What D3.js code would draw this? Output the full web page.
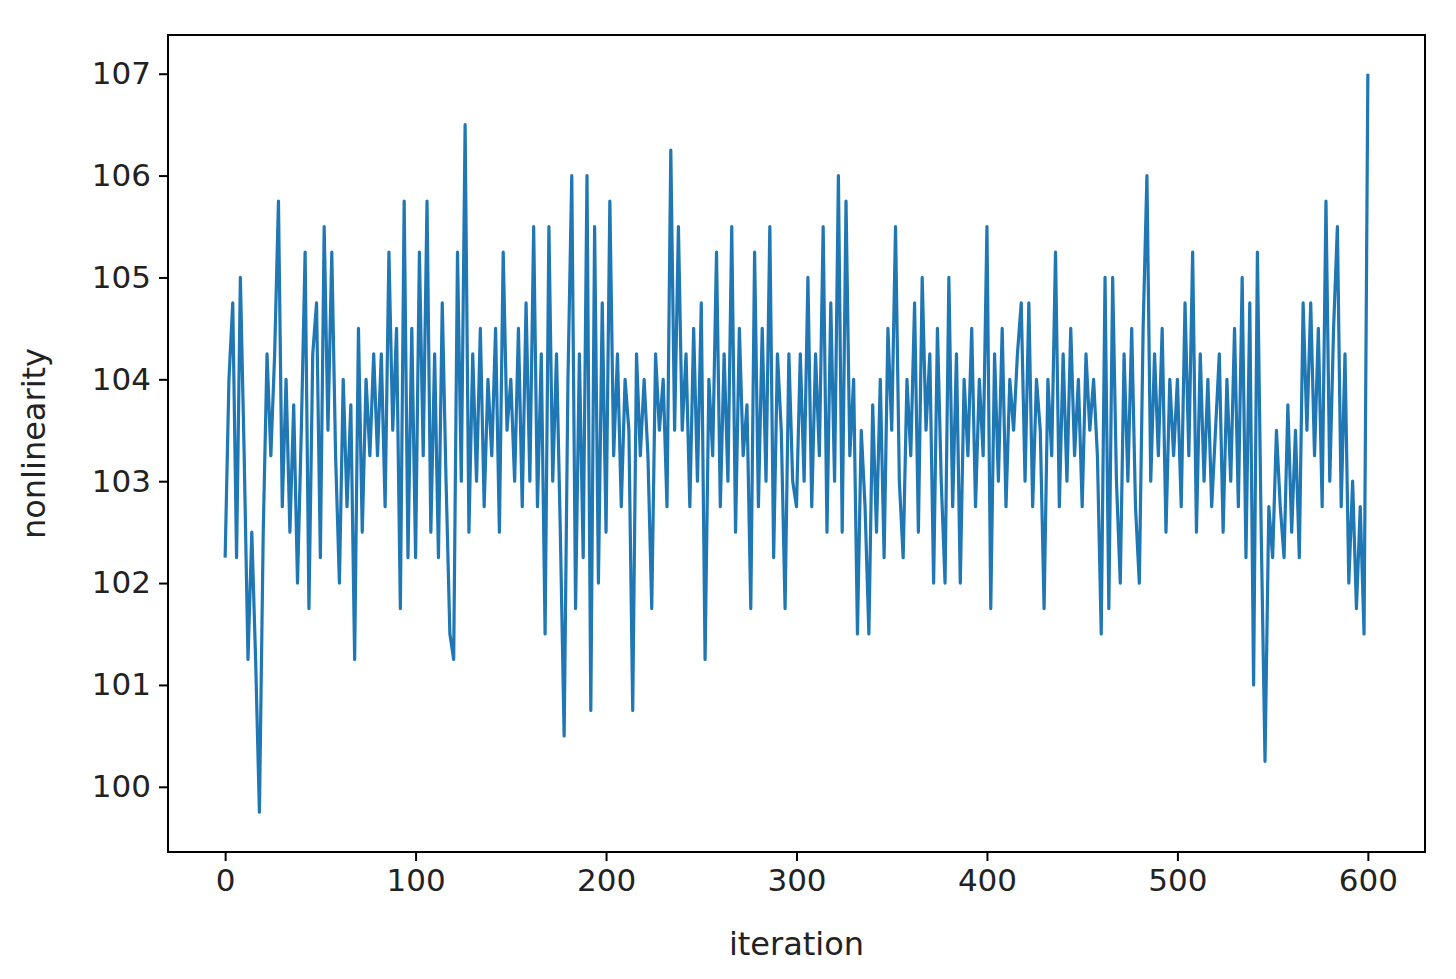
<!DOCTYPE html>
<html><head><meta charset="utf-8">
<script src="https://cdn.jsdelivr.net/npm/d3@7"></script>
<style>body{margin:0;background:#fff}svg{display:block}</style>
</head><body>
<script>
// values sampled every 2 iterations
const step = 2;
const nonlinearity = [
102.25,104,104.75,102.25,105,103.25,101.25,102.5,101.25,99.75,
102.5,104.25,103.25,104.25,105.75,102.75,104,102.5,103.75,102,
103.5,105.25,101.75,104.25,104.75,102.25,105.5,103.5,105.25,103.25,
102,104,102.75,103.75,101.25,104.5,102.5,104,103.25,104.25,
103.25,104.25,102.75,105.25,103.5,104.5,101.75,105.75,102.25,104.5,
102.25,105.25,103.25,105.75,102.5,104.25,102.25,104.75,103,101.5,
101.25,105.25,103,106.5,102.5,104.25,103,104.5,102.75,104,
103.25,104.5,102.5,105.25,103.5,104,103,104.5,102.75,104.75,
103,105.5,102.75,104.25,101.5,105.5,103,104.25,102.5,100.5,
104,106,101.75,104.25,102.25,106,100.75,105.5,102,104.75,
102.5,105.75,103.25,104.25,102.75,104,103.5,100.75,104.25,103.25,
104,103.25,101.75,104.25,103.5,104,102.75,106.25,103.5,105.5,
103.5,104.25,102.75,104.5,103,104.75,101.25,104,103.25,105.25,
102.75,104.25,103,105.5,102.5,104.5,103.25,103.75,101.75,105.25,
102.75,104.5,103,105.5,102.25,104.25,103.5,101.75,104.25,103,
102.75,104.25,103,105,102.75,104.25,103.25,105.5,102.5,104.75,
103,106,102.5,105.75,103.25,104,101.5,103.5,102.75,101.5,
103.75,102.5,104,102.25,104.5,103.5,105.5,103,102.25,104,
103.25,104.75,102.5,105,103.5,104.25,102,104.5,103,102,
105,102.75,104.25,102,104,103.25,104.5,102.75,104,103.25,
105.5,101.75,104.25,103,104.5,102.75,104,103.5,104.25,104.75,
103,104.75,102.75,104,103.5,101.75,104,103.25,105.25,102.75,
104.25,103,104.5,103.25,104,102.75,104.25,103.5,104,103.25,
101.5,105,101.75,105,103,102,104.25,103,104.5,102.75,
102,104.5,106,103,104.25,103.25,104.5,102.5,104,103.25,
104,102.75,104.75,103.25,105.25,102.5,104.25,103,104,102.75,
103.5,104.25,102.5,104,103,104.5,102.75,105,102.25,104.75,
101,105.25,102.5,100.25,102.75,102.25,103.5,102.75,102.25,103.75,
102.5,103.5,102.25,104.75,103.5,104.75,103.25,104.5,102.75,105.75,
103,104.5,105.5,102.75,104.25,102,103,101.75,102.75,101.5,
107
];
const xTicks = [0, 100, 200, 300, 400, 500, 600];
const yTicks = [100, 101, 102, 103, 104, 105, 106, 107];

const W = 1456, H = 979;
const L = 168, R = 1425, T = 35, B = 852;
const svg = d3.select("body").append("svg").attr("width", W).attr("height", H);

const x = d3.scaleLinear().domain([-30, 630]).range([L, R]);
const y = d3.scaleLinear().domain([99.36, 107.38]).range([B, T]);

const line = d3.line().x((d, i) => x(i * step)).y(d => y(d));
svg.append("path").datum(nonlinearity)
  .attr("d", line).attr("fill", "none")
  .attr("stroke", "#1f77b4").attr("stroke-width", 3.2)
  .attr("stroke-linejoin", "round");

const font = "DejaVu Sans, sans-serif";
const gx = svg.append("g").attr("transform", `translate(0,${B})`)
  .call(d3.axisBottom(x).tickValues(xTicks).tickSize(9).tickPadding(8));
const gy = svg.append("g").attr("transform", `translate(${L},0)`)
  .call(d3.axisLeft(y).tickValues(yTicks).tickSize(9).tickPadding(8));
[gx, gy].forEach(g => {
  g.select(".domain").remove();
  g.selectAll("line").attr("stroke", "#000").attr("stroke-width", 2);
  g.selectAll("text").attr("font-family", font).attr("font-size", 31).attr("fill", "#222");
});

svg.append("rect").attr("x", L).attr("y", T).attr("width", R - L).attr("height", B - T)
  .attr("fill", "none").attr("stroke", "#000").attr("stroke-width", 2);

svg.append("text").attr("x", (L + R) / 2).attr("y", 955).attr("text-anchor", "middle")
  .attr("font-family", font).attr("font-size", 32).attr("fill", "#222").text("iteration");
svg.append("text").attr("transform", `translate(45,${(T + B) / 2}) rotate(-90)`)
  .attr("text-anchor", "middle").attr("font-family", font).attr("font-size", 32)
  .attr("fill", "#222").text("nonlinearity");
</script>
</body></html>
